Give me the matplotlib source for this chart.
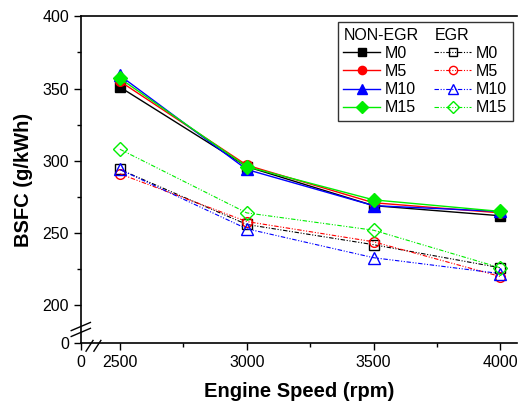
import matplotlib
matplotlib.use("Agg")
import matplotlib.pyplot as plt
from matplotlib.lines import Line2D
from matplotlib.ticker import FixedLocator, FixedFormatter

plt.rcParams['font.family'] = ['Liberation Sans', 'DejaVu Sans']

speed = [2500, 3000, 3500, 4000]
blends = ["M0", "M5", "M10", "M15"]

# BSFC (g/kWh) without EGR
non_egr_m0 = [351, 296, 269, 262]
non_egr_m5 = [355, 297, 271, 264]
non_egr_m10 = [359, 294, 269, 265]
non_egr_m15 = [357, 296, 273, 265]

# BSFC (g/kWh) with EGR
egr_m0 = [294, 256, 242, 226]
egr_m5 = [291, 258, 244, 220]
egr_m10 = [294, 253, 233, 222]
egr_m15 = [308, 264, 252, 226]

colors = ["black", "red", "blue", "#00ee00"]
markers = ["s", "o", "^", "D"]
msizes = [6.5, 7, 8, 7]

fig = plt.figure(figsize=(5.18, 4.05), dpi=100)
ax = fig.add_axes([0.156, 0.153, 0.842, 0.807])

x_lo, x_hi = 2346, 4065
y_lo, y_hi = 174, 400

non_egr = [non_egr_m0, non_egr_m5, non_egr_m10, non_egr_m15]
egr = [egr_m0, egr_m5, egr_m10, egr_m15]

h_solid = []
h_dash = []
for i in range(len(blends)):
    l, = ax.plot(speed, non_egr[i], color=colors[i], marker=markers[i], markersize=msizes[i],
                 linewidth=1.0, label=blends[i])
    h_solid.append(l)
for i in range(len(blends)):
    l, = ax.plot(speed, egr[i], color=colors[i], marker=markers[i], markersize=msizes[i],
                 markerfacecolor="none", linewidth=0.8, dashes=[4, 1.5, 1, 1.5, 1, 1.5],
                 label=blends[i])
    h_dash.append(l)

ax.set_xlim(x_lo, x_hi)
ax.set_ylim(y_lo, y_hi)

ax.xaxis.set_major_locator(FixedLocator([x_lo, 2500, 3000, 3500, 4000]))
ax.xaxis.set_major_formatter(FixedFormatter(["0", "2500", "3000", "3500", "4000"]))
ax.xaxis.set_minor_locator(FixedLocator([2750, 3250, 3750]))
ax.yaxis.set_major_locator(FixedLocator([y_lo, 200, 250, 300, 350, 400]))
ax.yaxis.set_major_formatter(FixedFormatter(["0", "200", "250", "300", "350", "400"]))
ax.yaxis.set_minor_locator(FixedLocator([225, 275, 325, 375]))

ax.tick_params(which="major", direction="out", length=5, width=1, labelsize=11.5)
ax.tick_params(which="minor", direction="out", length=3, width=1)
ax.spines["right"].set_visible(False)
for s in ["left", "bottom", "top"]:
    ax.spines[s].set_linewidth(1.2)

ax.set_xlabel("Engine Speed (rpm)", fontsize=14.5, fontweight="bold", labelpad=9)
ax.set_ylabel("BSFC (g/kWh)", fontsize=14.5, fontweight="bold", labelpad=7)

# axis break marks
for dy in [0.0, 0.018]:
    ax.plot([-0.022, 0.022], [0.02 + dy, 0.045 + dy], transform=ax.transAxes,
            color="black", lw=1, clip_on=False)
for dx in [0.0, 0.018]:
    ax.plot([0.012 + dx, 0.028 + dx], [-0.025, 0.008], transform=ax.transAxes,
            color="black", lw=1, clip_on=False)

# legend with two headed columns
blank = Line2D([], [], linestyle="none")
handles = [blank] + h_solid + [blank] + h_dash
labels = ["NON-EGR"] + blends + ["EGR"] + blends
leg = ax.legend(handles, labels, ncol=2, loc="upper right", bbox_to_anchor=(0.99, 0.982),
                fontsize=11.5, frameon=True, fancybox=False, edgecolor="black",
                handlelength=2.3, handletextpad=0.3, columnspacing=1.0, markerscale=0.85,
                labelspacing=0.2, borderpad=0.35, borderaxespad=0)
leg.get_frame().set_linewidth(1.0)

# pull the header texts left over their empty handle slots
for col in leg._legend_handle_box.get_children():
    first = col.get_children()[0]
    first.get_children()[0].width = 0
    first.sep = 0

fig.savefig("out.png", dpi=100)
